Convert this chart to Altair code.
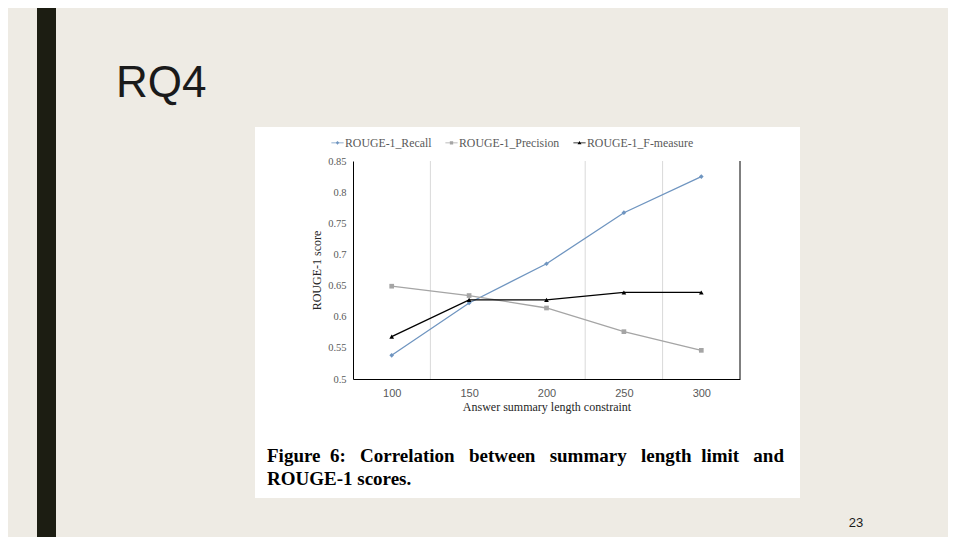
import altair as alt
import pandas as pd

# ---- data ----
lengths = ["100", "150", "200", "250", "300"]
recall = [0.538, 0.622, 0.685, 0.767, 0.825]
precision = [0.649, 0.634, 0.614, 0.576, 0.546]
fmeasure = [0.568, 0.627, 0.627, 0.639, 0.639]
series_names = ["ROUGE-1_Recall", "ROUGE-1_Precision", "ROUGE-1_F-measure"]
series_colors = ["#6F95C0", "#A5A5A5", "#000000"]
y_ticks = [0.5, 0.55, 0.6, 0.65, 0.7, 0.75, 0.8, 0.85]

rows = []
for name, vals in zip(series_names, [recall, precision, fmeasure]):
    for L, v in zip(lengths, vals):
        rows.append({"length": L, "score": v, "series": name})
df = pd.DataFrame(rows)

W, H = 387, 218
OX, OY = 353, 161  # page position of plot origin
TOTAL_W, TOTAL_H = 940, 529

BG = "#EEEBE4"
SERIF = "Liberation Serif"
SANS = "Liberation Sans"

one = pd.DataFrame({"k": [0]})


def px(x):
    return x - OX


def py(y):
    return y - OY


color_scale = alt.Scale(domain=series_names, range=series_colors)
shape_scale = alt.Scale(domain=series_names, range=["diamond", "square", "triangle-up"])
# legend-only symbols: short line with the marker on it
bar = "M-1,-0.07H1V0.07H-1Z"
legend_shapes = alt.Scale(
    domain=series_names,
    range=[
        bar + "M0,-0.3L0.3,0L0,0.3L-0.3,0Z",
        bar + "M-0.27,-0.27H0.27V0.27H-0.27Z",
        bar + "M0,-0.32L0.32,0.24H-0.32Z",
    ],
)

white_box = alt.Chart(one).mark_rect(color="#FFFFFF").encode(
    x=alt.value(px(255)), x2=alt.value(px(800)), y=alt.value(py(127)), y2=alt.value(py(498))
)
side_bar = alt.Chart(one).mark_rect(color="#1C1D12").encode(
    x=alt.value(px(37)), x2=alt.value(px(56)), y=alt.value(py(0)), y2=alt.value(py(545))
)

grid_layers = []
for k in [1, 3, 4]:
    grid_layers.append(
        alt.Chart(one).mark_rule(color="#D9D9D9", strokeWidth=1).encode(
            x=alt.value(W / 5 * k), y=alt.value(0), y2=alt.value(H)
        )
    )
right_border = alt.Chart(one).mark_rule(color="#000000", strokeWidth=1).encode(
    x=alt.value(W), y=alt.value(0), y2=alt.value(H)
)

x_enc = alt.X(
    "length:O",
    sort=lengths,
    title="Answer summary length constraint",
    axis=alt.Axis(
        labelAngle=0, ticks=False, domainColor="#000000", domainWidth=1, zindex=2,
        labelFont=SANS, labelFontSize=11, labelColor="#595959", labelPadding=8,
        titleFont=SERIF, titleFontSize=12, titleFontWeight="normal", titleColor="#262626",
        titlePadding=3, grid=False,
    ),
)
y_enc = alt.Y(
    "score:Q",
    title="ROUGE-1 score",
    scale=alt.Scale(domain=[0.5, 0.85], nice=False, zero=False),
    axis=alt.Axis(
        values=y_ticks, format=".2~f", ticks=False, grid=False, zindex=2,
        domainColor="#000000", domainWidth=1,
        labelFont=SERIF, labelFontSize=10.5, labelColor="#595959", labelPadding=7,
        titleFont=SERIF, titleFontSize=12, titleFontWeight="normal", titleColor="#262626",
        titleX=-37, titleY=H / 2, titleAngle=-90, titleAlign="center", titleBaseline="middle",
    ),
)

legend = alt.Legend(
    title=None, orient="none", direction="horizontal", legendX=-22, legendY=-25,
    labelFont=SERIF, labelFontSize=11.8, labelColor="#595959", labelOffset=1,
    symbolSize=150, columnPadding=13, symbolStrokeWidth=0, symbolOpacity=1, zindex=2,
)
color_enc = alt.Color("series:N", scale=color_scale, legend=None)

lines = alt.Chart(df).mark_line(strokeWidth=1.3).encode(
    x=x_enc, y=y_enc, color=color_enc, detail="series:N",
)
points = alt.Chart(df).mark_point(filled=True, size=22, opacity=1).encode(
    x=x_enc, y=y_enc, color=color_enc,
    shape=alt.Shape("series:N", scale=shape_scale, legend=None),
)
legend_layer = alt.Chart(df).mark_point(opacity=0).encode(
    x=x_enc, y=y_enc,
    fill=alt.Fill("series:N", scale=color_scale, legend=legend),
    shape=alt.Shape("series:N", scale=legend_shapes, legend=legend),
)

title_txt = alt.Chart(one).mark_text(
    text="RQ4", font=SANS, fontSize=44, color="#1A1A1A", align="left", baseline="alphabetic"
).encode(x=alt.value(px(116)), y=alt.value(py(97)))

page_no = alt.Chart(one).mark_text(
    text="23", font=SANS, fontSize=13, color="#1A1A1A", align="center", baseline="alphabetic"
).encode(x=alt.value(px(856)), y=alt.value(py(527)))

nb = "\u00a0"
cap1_words = ["Figure", "6:", "Correlation", "between", "summary", "length", "limit", "and"]
gaps = [2, 3, 3, 3, 3, 2, 3]
cap1 = cap1_words[0]
for g, w in zip(gaps, cap1_words[1:]):
    cap1 += nb * g + w

caption1 = alt.Chart(one).mark_text(
    text=cap1, font=SERIF, fontSize=19, fontWeight="bold", color="#000000",
    align="left", baseline="alphabetic"
).encode(x=alt.value(px(267)), y=alt.value(py(462)))
caption2 = alt.Chart(one).mark_text(
    text="ROUGE-1 scores.", font=SERIF, fontSize=19, fontWeight="bold", color="#000000",
    align="left", baseline="alphabetic"
).encode(x=alt.value(px(267)), y=alt.value(py(485)))

chart = alt.layer(
    white_box, side_bar, *grid_layers, right_border, lines, points, legend_layer,
    title_txt, page_no, caption1, caption2,
).resolve_scale(shape="independent", fill="independent").properties(
    width=W, height=H,
    autosize=alt.AutoSizeParams(type="none"),
    padding={"left": OX - 8, "top": OY - 8, "right": TOTAL_W - (OX - 8) - W,
             "bottom": TOTAL_H - (OY - 8) - H},
    background=BG,
).configure_view(stroke=None, fill=None)

chart.save("out.html", embed_options={"renderer": "svg", "actions": False})
